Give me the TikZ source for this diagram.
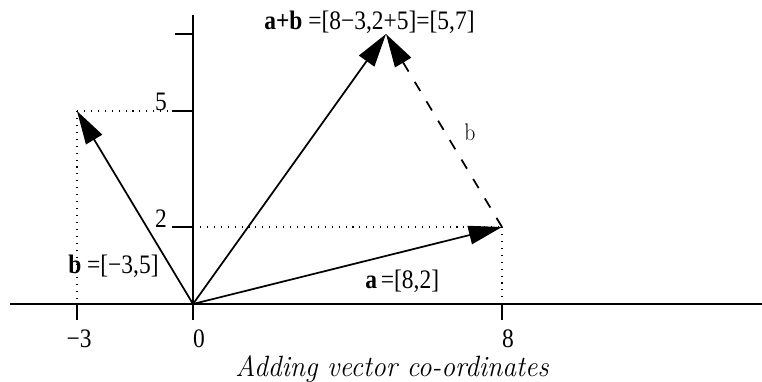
\documentclass[tikz,border=0pt]{standalone}
\usepackage{fontspec}
\usetikzlibrary{arrows.meta}
\newfontfamily\timesf{Liberation Serif}
\newcommand{\tx}[1]{\scalebox{0.88}[1]{\timesf #1}}
\tikzset{
  vec/.style={line width=1.3pt, -{Triangle[length=25pt,width=14pt]}},
  dvec/.style={vec, dash pattern=on 8pt off 9pt},
  axisline/.style={line width=0.8pt},
  guide/.style={line width=0.8pt, dash pattern=on 0.8pt off 4.4pt},
  lab/.style={font=\fontsize{20}{24}\selectfont, inner sep=0pt},
}
\begin{document}
\begin{tikzpicture}[x=0.75pt,y=-0.75pt]
\useasboundingbox (0,0) rectangle (762,381);
% points
\coordinate (O) at (193,304);
\coordinate (A) at (502,227);
\coordinate (B) at (77,111);
\coordinate (S) at (386,34);
\coordinate (xl) at (10,304);
\coordinate (xr) at (762,304);
\coordinate (yt) at (193,15);
\coordinate (yb) at (193,320);
\coordinate (t5) at (172,111);
\coordinate (t2) at (172,227);
\coordinate (t7) at (175,34);
\coordinate (y5) at (193,111);
\coordinate (y2) at (193,227);
\coordinate (bx) at (77,304);
\coordinate (ax) at (502,304);
\coordinate (bxd) at (77,320);
\coordinate (axd) at (502,320);
% axes
\draw[axisline] (xl) -- (xr);
\draw[axisline] (yt) -- (yb);
\draw[axisline] (bx) -- (bxd);
\draw[axisline] (ax) -- (axd);
\draw[axisline] (t5) -- (y5);
\draw[axisline] (t2) -- (y2);
\draw[axisline] (t7) -- (S -| yt);
% guides
\draw[guide] (B) -- (t5);
\draw[guide] (B) -- (bx);
\draw[guide] (y2) -- (A);
\draw[guide] (A) -- (ax);
% vectors
\draw[vec] (O) -- (A);
\draw[vec] (O) -- (B);
\draw[vec] (O) -- (S);
\draw[dvec] (A) -- (S);
% labels
\node[lab, anchor=base west] (ls) at (264,30) {\tx{\textbf{a+b} =[8−3,2+5]=[5,7]}};
\node[lab, anchor=base west] (lb) at (68,273) {\tx{\textbf{b} =[−3,5]}};
\node[lab, anchor=base west] (la) at (365,288) {\tx{\textbf{a}\,=[8,2]}};
\node[lab, anchor=base east] (l5) at (167,111) {\tx{5}};
\node[lab, anchor=base east] (l2) at (167,227) {\tx{2}};
\node[lab, anchor=base] (lm3) at (79,347) {\tx{−3}};
\node[lab, anchor=base] (l0) at (199,347) {\tx{0}};
\node[lab, anchor=base] (l8) at (508,347) {\tx{8}};
\node[inner sep=0pt, anchor=base, font=\fontsize{18}{22}\selectfont] (lbd) at (470,140) {\scalebox{0.9}[1]{b}};
\node[inner sep=0pt, anchor=base, font=\fontsize{22}{26}\selectfont\itshape] (cap) at (392,376) {\scalebox{0.94}[1]{Adding vector co-ordinates}};
\end{tikzpicture}
\end{document}
